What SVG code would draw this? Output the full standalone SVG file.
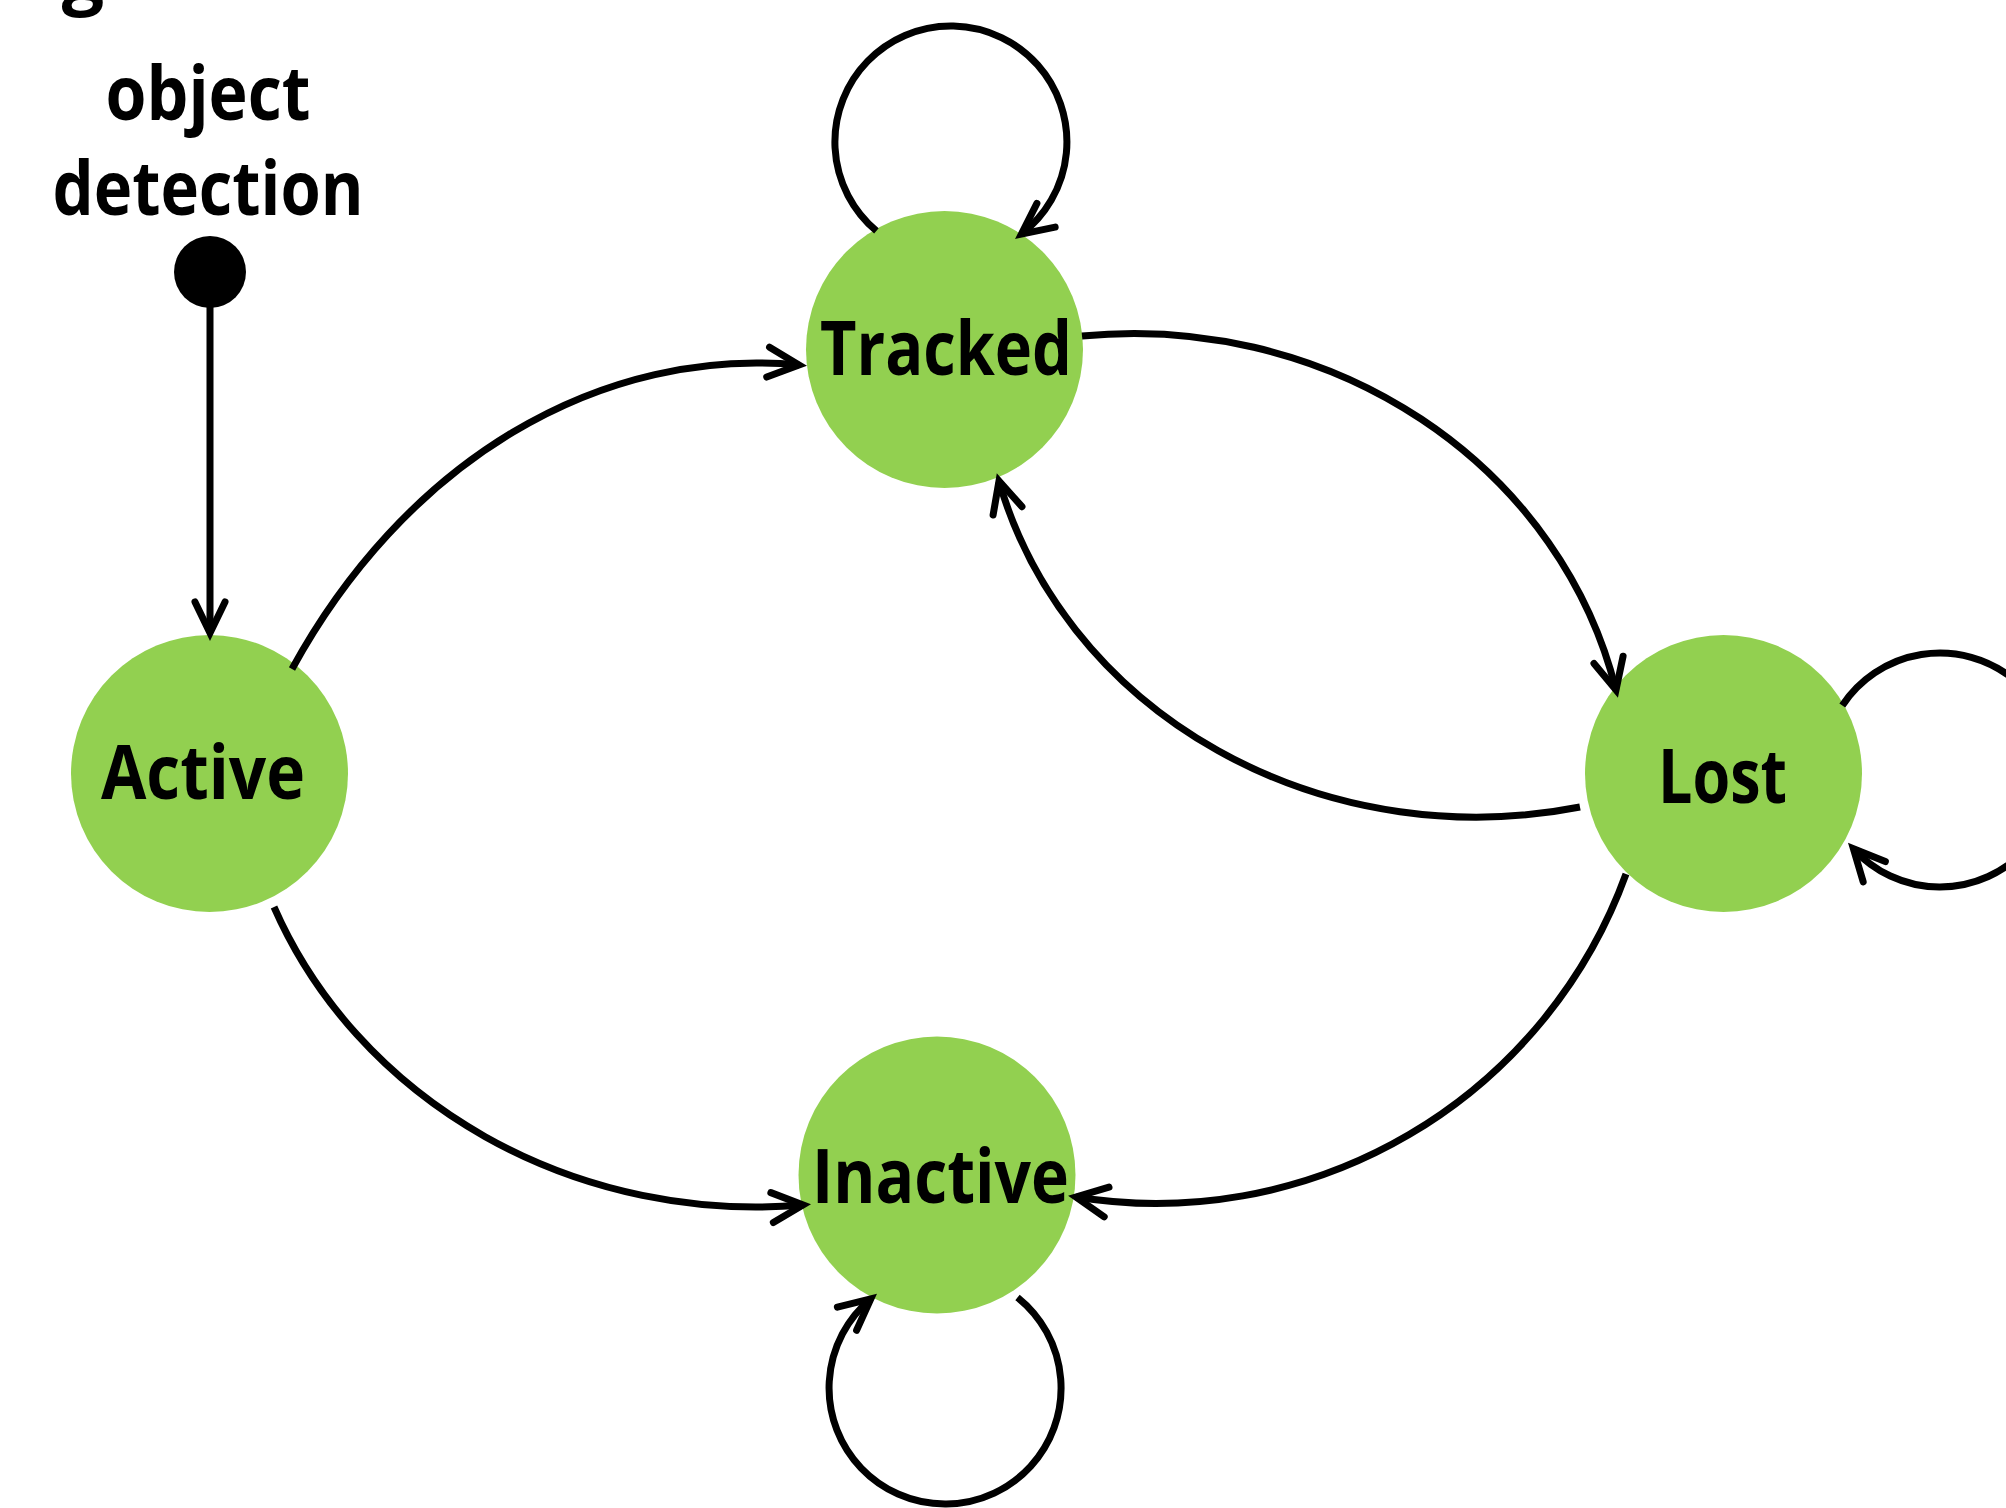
<svg xmlns="http://www.w3.org/2000/svg" width="2006" height="1508" viewBox="0 0 2006 1508">
  <defs>
    <style>
      .state { fill: #92D050; }
      .label { font-family: "Open Sans", "Noto Sans", "Liberation Sans", sans-serif; font-weight: 700; font-size: 75px; fill: #000; text-anchor: middle; }
      .edge { fill: none; stroke: #000; stroke-width: 7; marker-end: url(#arrow); }
    </style>
    <marker id="arrow" markerUnits="userSpaceOnUse" viewBox="-40 -22 46 44" refX="0" refY="0" markerWidth="46" markerHeight="44" orient="auto" overflow="visible">
      <path d="M-31,-15 L0,0 L-31,15" fill="none" stroke="#000" stroke-width="7" stroke-linecap="round" stroke-linejoin="miter"/>
    </marker>
  </defs>
  <rect width="2006" height="1508" fill="#fff"/>

  <text class="label" x="83" y="0" font-size="118">g</text>

  <g id="start">
    <text class="label" x="208" y="120" textLength="205" lengthAdjust="spacingAndGlyphs">object</text>
    <text class="label" x="208" y="215" textLength="311" lengthAdjust="spacingAndGlyphs">detection</text>
    <circle cx="210" cy="272" r="36" fill="#000"/>
  </g>

  <g id="node-tracked">
    <circle class="state" cx="944.5" cy="349.5" r="138.5"/>
    <text class="label" x="946" y="375" textLength="252" lengthAdjust="spacingAndGlyphs">Tracked</text>
  </g>
  <g id="node-active">
    <circle class="state" cx="209.5" cy="773.5" r="138.5"/>
    <text class="label" x="203" y="799" textLength="204" lengthAdjust="spacingAndGlyphs">Active</text>
  </g>
  <g id="node-lost">
    <circle class="state" cx="1723.5" cy="773.5" r="138.5"/>
    <text class="label" x="1722.5" y="803" textLength="129" lengthAdjust="spacingAndGlyphs">Lost</text>
  </g>
  <g id="node-inactive">
    <circle class="state" cx="937" cy="1175" r="138.5"/>
    <text class="label" x="940.5" y="1203" textLength="257" lengthAdjust="spacingAndGlyphs">Inactive</text>
  </g>

  <g id="connectors">
    <path class="edge" d="M210,300 L210,633"/>
    <path class="edge" d="M292,669 A562,700 0 0 1 799,365"/>
    <path class="edge" d="M1082,336 A495,460 0 0 1 1616,690"/>
    <path class="edge" d="M1580,807 A493,450 0 0 1 999,481"/>
    <path class="edge" d="M274,907 A520,480 0 0 0 803,1205"/>
    <path class="edge" d="M1626,874 A500,500 0 0 1 1076,1197"/>
    <path class="edge" d="M876.4,230.9 A116,116 0 1 1 1021.4,234.1"/>
    <path class="edge" d="M1842.3,705.5 A117,117 0 1 1 1853.4,848.8"/>
    <path class="edge" d="M1017.5,1297.4 A116,116 0 1 1 870.8,1298.9"/>
  </g>
</svg>
